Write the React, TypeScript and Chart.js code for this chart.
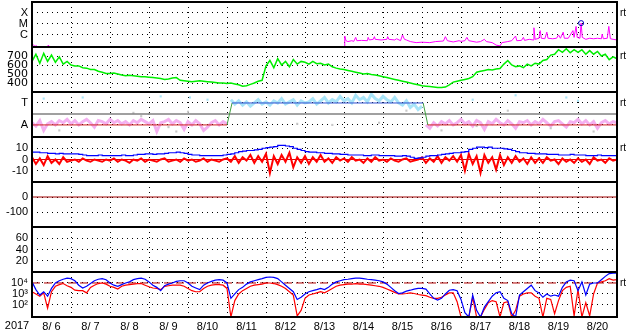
import { useEffect, useRef } from 'react';
import { Chart, registerables } from 'chart.js';

Chart.register(...registerables);

const STEP = 0.1; // days between samples
const dayLabels = ['8/ 6', '8/ 7', '8/ 8', '8/ 9', '8/10', '8/11', '8/12', '8/13', '8/14', '8/15', '8/16', '8/17', '8/18', '8/19', '8/20'];
const yearLabel = '2017';
const rtLabel = 'rt';

// Panel 1: GOES X-ray flux [day, W/m2]
const xray: [number, number | null][] = [
  [0.0, 9e-8], [0.04, 1.2e-7], [0.08, 9e-8], [0.1, 1.1e-7], [0.14, 8e-8], [0.4, 9e-8], [0.42, 1.2e-7], [0.45, 8e-8], [0.5, null],
  [8.0, 8e-8], [8.02, 8e-7], [8.05, 3e-7], [8.1, 2.5e-7], [8.2, 3e-7], [8.25, 2.6e-7], [8.3, 6e-7], [8.33, 3e-7], [8.45, 3.2e-7],
  [8.6, 3e-7], [8.62, 6e-7], [8.65, 3.5e-7], [8.75, 4e-7], [8.78, 7e-7], [8.8, 4e-7], [8.95, 3.5e-7], [9.1, 4e-7], [9.12, 7e-7],
  [9.15, 4e-7], [9.3, 3.5e-7], [9.35, 4.5e-7], [9.45, 3e-7], [9.5, 1e-6], [9.55, 4e-7], [9.6, 3.5e-7], [9.7, 2.5e-7], [9.85, 2e-7],
  [10.0, 2.2e-7], [10.2, 2e-7], [10.35, 2.5e-7], [10.55, 2.8e-7], [10.6, 7e-7], [10.65, 3e-7], [10.8, 2.3e-7], [10.95, 3e-7],
  [11.0, 2.6e-7], [11.1, 3e-7], [11.15, 6e-7], [11.2, 3e-7], [11.4, 2.2e-7], [11.5, 2.5e-7], [11.6, 4e-7], [11.65, 2.5e-7],
  [11.8, 2e-7], [11.9, 1.2e-7], [12.0, 1e-7], [12.05, 2e-7], [12.2, 2.5e-7], [12.3, 3e-7], [12.4, 8e-7], [12.43, 3e-7],
  [12.55, 3.2e-7], [12.6, 6e-7], [12.63, 3.2e-7], [12.75, 4e-7], [12.85, 3.5e-7], [12.87, 4.5e-6], [12.9, 4e-7], [13.0, 5e-7],
  [13.03, 2.5e-6], [13.06, 5e-7], [13.15, 4.5e-7], [13.2, 1.8e-6], [13.23, 5e-7], [13.35, 4.5e-7], [13.45, 5e-7], [13.5, 1e-6],
  [13.55, 5e-7], [13.62, 1.8e-6], [13.65, 5e-7], [13.75, 5e-7], [13.87, 2.5e-6], [13.9, 6e-7], [13.95, 6e-6], [13.98, 6e-7],
  [14.05, 5e-7], [14.08, 1.2e-5], [14.11, 6e-7], [14.2, 4e-7], [14.3, 5e-7], [14.4, 4.5e-7], [14.5, 5e-7], [14.6, 4.5e-7],
  [14.62, 1.2e-6], [14.65, 4.5e-7], [14.75, 5e-7], [14.79, 6e-6], [14.83, 4.5e-7], [14.9, 4e-7], [15.0, 3.5e-7],
];
const xrayFlare: [number, number][] = [[14.08, 1.2e-5]];

// Panel 2: solar wind speed (km/s), every STEP from day 0
const speed = [
  640, 720, 620, 730, 640, 710, 630, 690, 610, 640,
  600, 590, 590, 570, 565, 550, 550, 530, 520, 505,
  505, 510, 500, 490, 480, 485, 480, 475, 470, 470,
  465, 460, 455, 450, 440, 445, 455, 460, 430, 425,
  420, 415, 420, 425, 420, 415, 410, 405, 400, 400,
  395, 400, 390, 380, 365, 370, 385, 400, 420, 430,
  590, 650, 570, 670, 600, 640, 580, 660, 610, 640,
  630, 610, 640, 615, 620, 600, 610, 580, 565, 555,
  550, 540, 530, 520, 510, 500, 505, 495, 490, 480,
  470, 460, 450, 440, 430, 420, 410, 400, 390, 380,
  370, 365, 360, 355, 350, 350, 355, 380, 410, 420,
  430, 440, 450, 470, 520, 530, 540, 550, 545, 555,
  560, 610, 650, 600, 580, 590, 570, 610, 590, 620,
  610, 650, 660, 710, 720, 770, 740, 780, 735, 770,
  740, 770, 720, 760, 720, 750, 700, 720, 660, 690,
  670,
];

// Panel 3: IMF sector (T = +1, A = -1)
const sectorTimes = [5.0, 5.13, 10.03, 10.15];
const phiAway1 = [
  -0.8, -1.1, -0.6, -1.5, -0.9, -0.7, -1.0, -0.6, -0.8, -0.5,
  -0.9, -0.6, -1.0, -0.7, -0.5, -0.8, -1.2, -0.6, -0.7, -0.9,
  -0.5, -0.8, -0.6, -0.9, -0.7, -1.0, -0.6, -0.8, -0.5, -0.7,
  -0.9, -0.6, -1.6, -0.8, -0.7, -0.5, -0.9, -0.6, -0.8, -1.4,
  -0.7, -1.0, -0.6, -0.9, -1.5, -1.2, -0.8, -0.6, -1.0, -0.7,
  -0.9,
];
const phiToward = [
  1.3, 0.9, 1.2, 0.8, 1.1, 0.7, 1.0, 1.3, 0.9,
  1.1, 0.8, 1.2, 1.0, 1.4, 0.9, 1.1, 1.3, 0.8, 1.2,
  1.0, 1.1, 1.4, 0.9, 1.2, 1.5, 1.0, 1.3, 1.1, 1.6,
  1.2, 1.4, 1.0, 1.7, 1.3, 1.5, 1.1, 1.8, 1.4, 1.2,
  1.6, 1.3, 1.1, 1.5, 1.0, 0.8, 1.2, 0.6, 0.9, 0.4,
  0.7,
];
const phiAway2 = [
  -1.0, -1.3, -0.8, -1.1, -0.7, -0.9, -0.6, -1.0, -0.8,
  -0.5, -0.9, -0.7, -1.1, -0.6, -0.8, -1.4, -0.7, -0.9, -0.5,
  -0.8, -1.0, -0.6, -0.9, -1.3, -0.7, -0.8, -0.6, -1.0, -0.7,
  -0.9, -0.5, -0.8, -1.1, -0.7, -0.6, -0.9, -1.2, -0.7, -0.8,
  -0.5, -0.9, -0.6, -1.0, -0.7, -1.3, -0.8, -0.6, -0.9, -0.7,
  -0.8,
];
const cyanSparse: [number, number][] = [[0.3, 1.4], [1.3, 1.5], [3.3, 1.6], [4.05, 1.5], [4.5, 1.3], [11.3, 1.3], [12.4, 1.7], [13.7, 1.5], [14.0, 1.2]];
const greyDots: [number, number][] = [[0.7, -1.5], [2.6, 0.1], [2.8, -0.2], [3.0, 0.0], [3.5, -1.2], [3.7, -1.6], [4.0, 0.2], [6.8, -0.9], [7.7, -1.0], [8.9, -0.8], [9.6, 0.3], [10.5, -1.5], [11.4, -1.1], [12.2, 0.3], [13.3, -1.3], [14.4, -1.6]];

// Panel 4: IMF Bt (blue) and Bz (red), nT
const bt = [
  6.5, 6.5, 6, 6, 5.5, 5.5, 5, 5.5, 5, 5,
  5, 5, 4.5, 4, 3.5, 3.5, 3.5, 4, 3.5, 3.5,
  3.5, 3.5, 3.5, 4, 3.5, 3.5, 4, 4.5, 4.5, 5,
  5, 4.5, 5, 5, 5.5, 6, 6, 6.5, 6, 5.5,
  4.5, 4, 4, 3.5, 3.5, 3.5, 3.5, 3.5, 3.5, 4,
  4.5, 5, 6, 7, 7.5, 8, 8, 8.5, 9, 10,
  10.5, 11, 11.5, 12.5, 12.5, 12, 11.5, 10, 9, 8,
  7, 6.5, 6.5, 6, 6, 5.5, 5.5, 5, 5, 4.5,
  4.5, 4, 4, 4, 4, 3.5, 3.5, 4, 4, 3.5,
  3.5, 3.5, 3.5, 3, 3, 3.5, 3, 2, 1, 1.5,
  2, 3, 3.5, 3.5, 4, 4.5, 5, 5.5, 6, 6,
  6.5, 7, 9, 10, 11, 11, 10.5, 11, 10, 10,
  10, 9.5, 9, 8, 7, 6, 6, 5.5, 5.5, 5,
  5, 5, 4.5, 4.5, 4.5, 4, 4, 4, 4.5, 4,
  4, 4, 3.5, 3.5, 3.5, 4, 3.5, 3.5, 3.5, 3.5,
  3.5,
];
const bz = [
  2, -4, 1, -5, 3, -3, 0, -4, 2, -2,
  -1, 0, -2, 1, -1, -2, 0, -1, -2, 0,
  -1, 1, -2, 0, -1, -3, 0, -1, 1, -2,
  0, -1, -2, 0, 1, -2, -1, 0, -2, 1,
  -1, 0, -2, -1, 1, -2, 0, -1, -2, 0,
  1, -2, 3, -3, 2, -1, 4, -3, 3, -2,
  5, -12, 3, -4, 4, -2, 6, -7, 2, -3,
  3, -4, 2, -2, 4, -2, 1, -3, 2, -1,
  1, -2, 2, -1, 0, -3, 1, -2, 2, -1,
  0, -2, 1, -1, -2, 0, 1, -2, -1, 0,
  2, -3, 1, -2, 3, -3, 2, -1, 3, -2,
  4, -10, 5, -4, 3, -12, 4, -3, 2, -9,
  4, -5, 2, -3, 3, -2, 1, -4, 2, -3,
  1, -3, 2, -1, 0, -4, 1, -2, 0, -3,
  1, -2, 0, -4, 2, -1, 0, -3, 1, -1,
  0,
];

// Panel 7: electron flux (blue, red)
const fluxBlue = [
  12600, 2500, 800, 1600, 630, 3200, 10000, 16000, 22000, 28000,
  25000, 16000, 6300, 3500, 5000, 8900, 16000, 22000, 25000, 20000,
  10000, 6300, 5000, 7100, 10000, 12600, 20000, 25000, 28000, 22000,
  12600, 6300, 4000, 2000, 5600, 7900, 10000, 14000, 16000, 16000,
  10000, 5000, 3500, 2500, 6300, 10000, 14000, 18000, 20000, 18000,
  10000, 400, 1000, 2500, 4000, 7900, 12600, 16000, 20000, 25000,
  32000, 35000, 32000, 25000, 12600, 6300, 3200, 1600, 320, 500,
  1000, 1600, 2000, 2500, 3200, 2500, 4000, 7900, 12600, 16000,
  20000, 22000, 25000, 28000, 28000, 25000, 22000, 20000, 18000, 16000,
  12600, 7900, 4000, 2000, 1100, 1260, 1800, 2200, 2800, 3200,
  3200, 2800, 1000, 400, 280, 400, 1000, 2200, 2500, 2000,
  320, 20, 8, 800, 32, 8, 63, 200, 630, 1260,
  1600, 400, 250, 16, 8, 800, 1600, 3200, 6300, 2000,
  1260, 500, 1000, 630, 800, 630, 4000, 12600, 18000, 16000,
  2000, 12600, 800, 7900, 10000, 10000, 20000, 40000, 71000, 79000,
  79000,
];
const fluxRed = [
  1600, 1000, 630, 1260, 50, 1600, 5000, 7100, 8900, 5600,
  4000, 2200, 2000, 2000, 1260, 4000, 6300, 8900, 10000, 7900,
  5000, 4000, 2800, 5000, 6300, 7100, 7900, 8900, 8900, 6300,
  4500, 3500, 3200, 2500, 5000, 5600, 6300, 6300, 6300, 5000,
  3200, 2000, 1600, 1600, 3200, 5000, 6300, 7100, 7100, 6300,
  3200, 8, 250, 1000, 2000, 3200, 5000, 6300, 7100, 7900,
  10000, 10000, 8900, 7100, 5000, 3200, 1600, 800, 10, 32,
  400, 800, 1000, 1260, 1600, 1260, 2000, 3200, 5000, 6300,
  7100, 7900, 7900, 8900, 7900, 7900, 7100, 6300, 5600, 5000,
  4000, 2800, 2000, 1400, 1000, 1000, 1100, 1260, 1100, 900,
  800, 700, 500, 400, 400, 500, 800, 1260, 1260, 200,
  8, 8, 8, 500, 8, 8, 40, 160, 250, 200,
  8, 160, 200, 8, 32, 630, 1000, 1260, 1260, 630,
  400, 8, 400, 320, 16, 250, 2000, 4000, 5000, 10,
  2500, 8, 160, 10, 1000, 10000, 12600, 16000, 25000, 18000,
  20000,
];
const fluxRef = 1e4;

const FONT = '"Liberation Sans", Arial, sans-serif';
const tickFont = { family: FONT, size: 11 };
const DOTS = [1, 4];

const mk = (values: (number | null)[], start = 0) =>
  values.map((v, i) => ({ x: Math.round((start + i * STEP) * 1000) / 1000, y: v }));
const pairs = (list: [number, number | null][]) => list.map(([x, y]) => ({ x, y }));
const hline = (y: number) => [{ x: 0, y }, { x: 15, y }];

function panel(type: string, min: number, max: number, values: number[], labels: string[], font: any = tickFont) {
  return {
    type, min, max, position: 'left', stack: 'panels', stackWeight: 1,
    afterBuildTicks: (axis: any) => { axis.ticks = values.map((value) => ({ value })); },
    afterFit: (axis: any) => { axis.width = 32; axis.paddingTop = 0; axis.paddingBottom = 0; },
    ticks: {
      autoSkip: false, padding: 4, color: '#000', font,
      callback: (v: any) => { const k = values.indexOf(v); return k >= 0 ? labels[k] : ''; },
    },
    grid: { color: '#000', lineWidth: 1, drawTicks: false },
    border: { display: false, dash: DOTS },
  };
}

const framePlugin = {
  id: 'frame',
  afterDatasetsDraw(chart: any) {
    const { ctx, chartArea: a, scales } = chart;
    ctx.save();
    ctx.strokeStyle = '#000';
    ctx.lineWidth = 2;
    ctx.strokeRect(a.left, a.top, a.right - a.left, a.bottom - a.top);
    ['y1', 'y2', 'y3', 'y4', 'y5', 'y6'].forEach((id) => {
      const y = Math.round(scales[id].bottom);
      ctx.beginPath();
      ctx.moveTo(a.left, y);
      ctx.lineTo(a.right, y);
      ctx.stroke();
    });
    ctx.fillStyle = '#000';
    ctx.font = `10px ${FONT}`;
    ctx.textAlign = 'left';
    ctx.textBaseline = 'middle';
    const marks: [string, number][] = [['y1', 1e-4], ['y2', 700], ['y3', 1], ['y4', 10], ['y7', fluxRef]];
    marks.forEach(([id, v]) => ctx.fillText(rtLabel, a.right + 3, scales[id].getPixelForValue(v)));
    ctx.font = `11px ${FONT}`;
    ctx.textAlign = 'center';
    ctx.textBaseline = 'top';
    ctx.fillText(yearLabel, 17, a.bottom + 3);
    ctx.restore();
  },
};

export default function App() {
  const ref = useRef<HTMLCanvasElement | null>(null);
  useEffect(() => {
    document.body.style.margin = '0';
    const canvas = ref.current;
    if (!canvas) return;
    const line = (extra: any) => ({ pointRadius: 0, borderWidth: 1, tension: 0, fill: false, ...extra });
    const dots = (data: any, color: string, yAxisID: string) => ({
      data, yAxisID, showLine: false, pointRadius: 1.5, pointStyle: 'rect', pointBorderWidth: 0,
      pointBackgroundColor: color, borderColor: color,
    });
    const [s1, s2, s3, s4] = sectorTimes;
    const datasets: any[] = [
      // panel 1
      { data: pairs(xrayFlare), yAxisID: 'y1', showLine: false, pointRadius: 2.5, pointBorderWidth: 1, pointBorderColor: '#0000c0', pointBackgroundColor: 'rgba(0,0,0,0)' },
      line({ data: pairs(xray), yAxisID: 'y1', borderColor: '#ff00ff' }),
      // panel 2
      line({ data: mk(speed), yAxisID: 'y2', borderColor: '#00ee00', borderWidth: 1.5 }),
      // panel 3
      line({ data: [{ x: s2, y: 1 }, { x: s3, y: 1 }], yAxisID: 'y3', borderColor: '#3050d0' }),
      line({ data: [{ x: 0, y: -1 }, { x: s1, y: -1 }, { x: s1, y: null }, { x: s4, y: -1 }, { x: 15, y: -1 }], yAxisID: 'y3', borderColor: '#d02020' }),
      line({ data: [{ x: s1, y: -1 }, { x: s2, y: 1 }, { x: s2, y: null }, { x: s3, y: 1 }, { x: s4, y: -1 }], yAxisID: 'y3', borderColor: '#40a040' }),
      line({ data: hline(0), yAxisID: 'y3', borderColor: '#808080', borderWidth: 1.5 }),
      dots(pairs(greyDots), '#c8c8c8', 'y3'),
      dots(pairs(cyanSparse), '#a8e4f8', 'y3'),
      line({ data: mk(phiToward, 5.1), yAxisID: 'y3', borderColor: '#a8e4f8', borderWidth: 3 }),
      line({ data: mk(phiAway1, 0), yAxisID: 'y3', borderColor: '#f4b0f0', borderWidth: 3 }),
      line({ data: mk(phiAway2, 10.1), yAxisID: 'y3', borderColor: '#f4b0f0', borderWidth: 3 }),
      // panel 4
      line({ data: mk(bt), yAxisID: 'y4', borderColor: '#0000ff', borderWidth: 1.2, stepped: true }),
      line({ data: mk(bz), yAxisID: 'y4', borderColor: '#ff0000', borderWidth: 2 }),
      line({ data: hline(0), yAxisID: 'y4', borderColor: '#e00000' }),
      // panel 5
      line({ data: hline(0), yAxisID: 'y5', borderColor: '#a00000' }),
      // panel 7
      line({ data: mk(fluxBlue), yAxisID: 'y7', borderColor: '#0000ff', borderWidth: 1.2 }),
      line({ data: mk(fluxRed), yAxisID: 'y7', borderColor: '#ff0000', borderWidth: 1.2 }),
      line({ data: hline(fluxRef), yAxisID: 'y7', borderColor: '#b00000', borderDash: [8, 4] }),
    ];
    const chart = new Chart(canvas, {
      type: 'line',
      data: { datasets },
      options: {
        animation: false,
        responsive: true,
        maintainAspectRatio: false,
        events: [],
        layout: { autoPadding: false, padding: { top: 2, right: 16, bottom: 0, left: 0 } },
        plugins: { legend: { display: false }, tooltip: { enabled: false } },
        scales: {
          x: {
            type: 'linear', min: 0, max: 15,
            afterBuildTicks: (axis: any) => { axis.ticks = dayLabels.map((_, k) => ({ value: k + 0.5 })); },
            afterFit: (axis: any) => { axis.height = 17; axis.paddingLeft = 0; axis.paddingRight = 0; },
            ticks: { autoSkip: false, maxRotation: 0, padding: 3, color: '#000', font: tickFont, callback: (_v: any, i: number) => dayLabels[i] },
            grid: { offset: true, color: '#000', lineWidth: 1, drawTicks: false },
            border: { display: false, dash: DOTS },
          },
          y7: panel('logarithmic', 8, 1e5, [1e4, 1e3, 1e2], ['10⁴', '10³', '10²']),
          y6: panel('linear', 0, 80, [60, 40, 20], ['60', '40', '20']),
          y5: panel('linear', -200, 100, [0, -100], ['0', '-100']),
          y4: panel('linear', -20, 20, [10, 0, -10], ['10', '0', '-10']),
          y3: panel('linear', -2.1, 2.0, [1, -1], ['T', 'A']),
          y2: panel('linear', 300, 800, [700, 600, 500, 400], ['700', '600', '500', '400'], { family: '"DejaVu Sans", sans-serif', size: 11 }),
          y1: panel('logarithmic', 8e-8, 1e-3, [1e-4, 1e-5, 1e-6], ['X', 'M', 'C']),
        } as any,
      },
      plugins: [framePlugin],
    } as any);
    return () => chart.destroy();
  }, []);
  return (
    <div style={{ width: 633, height: 334, position: 'relative' }}>
      <canvas ref={ref} />
    </div>
  );
}
